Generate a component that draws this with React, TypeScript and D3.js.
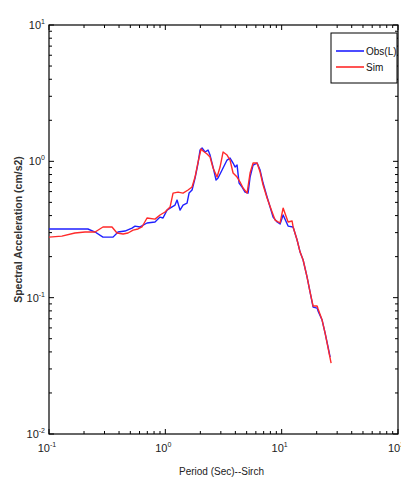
import React, { useRef, useEffect } from "react";
import * as d3 from "d3";

// Observed (blue) spectral acceleration, period in seconds
const obsPeriod = [
  0.1, 0.216, 0.249, 0.291, 0.355, 0.392, 0.45, 0.517, 0.549, 0.606,
  0.696, 0.815, 0.9, 0.955, 1.034, 1.098, 1.212, 1.261, 1.338, 1.42,
  1.537, 1.599, 1.697, 1.801, 1.911, 1.988, 2.069, 2.195, 2.329, 2.423,
  2.572, 2.729, 2.84, 3.074, 3.393, 3.601, 3.822, 3.976, 4.137, 4.304,
  4.567, 4.847, 5.143, 5.351, 5.678, 6.147, 6.523, 6.922, 7.492, 7.951,
  8.437, 9.134, 9.692, 10.29, 11.36, 12.54, 13.57, 14.4, 15.29, 16.54,
  17.55, 18.63, 20.17, 20.57, 22.26, 23.63, 25.07, 26.09,
];
const obsSA = [
  0.319, 0.319, 0.303, 0.278, 0.278, 0.303, 0.308, 0.324, 0.335, 0.33,
  0.353, 0.359, 0.39, 0.384, 0.439, 0.454, 0.478, 0.52, 0.439, 0.478,
  0.494, 0.585, 0.616, 0.754, 0.972, 1.21, 1.252, 1.17, 1.21, 1.112,
  0.908, 0.729, 0.754, 0.863, 1.022, 1.057, 0.972, 0.908, 0.939, 0.693,
  0.648, 0.595, 0.585, 0.767, 0.939, 0.972, 0.863, 0.693, 0.547, 0.462,
  0.39, 0.359, 0.347, 0.404, 0.335, 0.33, 0.265, 0.216, 0.189, 0.1416,
  0.11, 0.0853, 0.0839, 0.0797, 0.0685, 0.055, 0.0434, 0.0367,
];

// Simulated (red)
const simPeriod = [
  0.1, 0.129, 0.167, 0.204, 0.249, 0.291, 0.348, 0.384, 0.433, 0.478,
  0.528, 0.582, 0.63, 0.696, 0.815, 0.9, 0.994, 1.098, 1.165, 1.286,
  1.42, 1.568, 1.697, 1.801, 1.911, 2.028, 2.11, 2.284, 2.423, 2.572,
  2.784, 2.954, 3.135, 3.393, 3.601, 3.822, 4.137, 4.39, 4.659, 5.043,
  5.351, 5.678, 6.147, 6.523, 6.922, 7.492, 8.272, 8.777, 9.692, 10.29,
  11.36, 12.29, 12.54, 13.57, 14.4, 15.29, 16.54, 17.55, 18.63, 20.17,
  20.57, 22.26, 23.63, 25.07, 26.61,
];
const simSA = [
  0.278, 0.283, 0.298, 0.303, 0.303, 0.33, 0.33, 0.298, 0.293, 0.298,
  0.313, 0.319, 0.33, 0.384, 0.377, 0.404, 0.425, 0.462, 0.585, 0.595,
  0.585, 0.616, 0.648, 0.767, 0.988, 1.231, 1.19, 1.131, 1.075, 0.893,
  0.767, 0.908, 1.17, 1.112, 1.022, 0.821, 0.767, 0.705, 0.637, 0.585,
  0.821, 0.972, 0.972, 0.835, 0.67, 0.538, 0.425, 0.371, 0.353, 0.454,
  0.359, 0.365, 0.33, 0.265, 0.216, 0.189, 0.1416, 0.11, 0.0868, 0.0868,
  0.0825, 0.0685, 0.055, 0.0427, 0.0331,
];

const xDecades = [-1, 0, 1, 2];
const yDecades = [-2, -1, 0, 1];
const legendItems = [
  { label: "Obs(L)", color: "#1f1fff" },
  { label: "Sim", color: "#ff2a2a" },
];

const W = 401;
const H = 484;
const FONT = "'Liberation Sans', Arial, sans-serif";

const App = () => {
  const svgRef = useRef(null);

  useEffect(() => {
    const svg = d3.select(svgRef.current);
    svg.selectAll("*").remove();

    const margin = { top: 25, right: 3, bottom: 50, left: 49 };
    const x = d3.scaleLog().domain([0.1, 100]).range([margin.left, W - margin.right]);
    const y = d3.scaleLog().domain([0.01, 10]).range([H - margin.bottom, margin.top]);
    const [x0, x1] = x.range();
    const [y0, y1] = y.range();

    const g = svg.append("g");

    // minor + major ticks on all four sides, pointing inward
    const xTicks = [];
    const yTicks = [];
    for (let d = -1; d < 2; d++) for (let k = 1; k < 10; k++) xTicks.push({ v: k * 10 ** d, major: k === 1 });
    xTicks.push({ v: 100, major: true });
    for (let d = -2; d < 1; d++) for (let k = 1; k < 10; k++) yTicks.push({ v: k * 10 ** d, major: k === 1 });
    yTicks.push({ v: 10, major: true });

    xTicks.forEach((t) => {
      const len = t.major ? 5 : 3;
      const px = x(t.v);
      g.append("line").attr("x1", px).attr("x2", px).attr("y1", y0).attr("y2", y0 - len).attr("stroke", "#000");
      g.append("line").attr("x1", px).attr("x2", px).attr("y1", y1).attr("y2", y1 + len).attr("stroke", "#000");
    });
    yTicks.forEach((t) => {
      const len = t.major ? 5 : 3;
      const py = y(t.v);
      g.append("line").attr("x1", x0).attr("x2", x0 + len).attr("y1", py).attr("y2", py).attr("stroke", "#000");
      g.append("line").attr("x1", x1).attr("x2", x1 - len).attr("y1", py).attr("y2", py).attr("stroke", "#000");
    });

    g.append("rect")
      .attr("x", x0).attr("y", y1)
      .attr("width", x1 - x0).attr("height", y0 - y1)
      .attr("fill", "none").attr("stroke", "#000").attr("stroke-width", 1.2);

    // tick labels
    xDecades.forEach((e) => {
      const t = g.append("text")
        .attr("x", x(10 ** e) - 2).attr("y", y0 + 18)
        .attr("text-anchor", "middle")
        .attr("font-family", FONT).attr("font-size", 11).attr("fill", "#222");
      t.append("tspan").text("10");
      t.append("tspan").attr("dy", -5).attr("font-size", 7).text(String(e));
    });
    yDecades.forEach((e) => {
      const t = g.append("text")
        .attr("x", x0 - 4).attr("y", y(10 ** e) + 4)
        .attr("text-anchor", "end")
        .attr("font-family", FONT).attr("font-size", 11).attr("fill", "#222");
      t.append("tspan").text("10");
      t.append("tspan").attr("dy", -5).attr("font-size", 7).text(String(e));
    });

    // axis titles
    g.append("text")
      .attr("x", (x0 + x1) / 2 - 2).attr("y", H - 9)
      .attr("text-anchor", "middle")
      .attr("font-family", FONT).attr("font-size", 10).attr("fill", "#222")
      .text("Period (Sec)--Sirch");
    g.append("text")
      .attr("transform", `translate(22,${(y0 + y1) / 2}) rotate(-90)`)
      .attr("text-anchor", "middle")
      .attr("font-family", FONT).attr("font-size", 10.5).attr("font-weight", "bold").attr("fill", "#333")
      .text("Spectral Acceleration (cm/s2)");

    const line = d3.line().x((d) => x(d[0])).y((d) => y(d[1]));
    const series = [
      { p: obsPeriod, v: obsSA, color: legendItems[0].color },
      { p: simPeriod, v: simSA, color: legendItems[1].color },
    ];
    series.forEach((s) => {
      g.append("path")
        .datum(s.p.map((p, i) => [p, s.v[i]]))
        .attr("fill", "none")
        .attr("stroke", s.color)
        .attr("stroke-width", 1.4)
        .attr("stroke-linejoin", "round")
        .attr("d", line);
    });

    // legend
    const lg = g.append("g").attr("transform", `translate(331,33)`);
    lg.append("rect").attr("width", 66).attr("height", 50).attr("fill", "#fff").attr("stroke", "#000");
    legendItems.forEach((d, i) => {
      const ly = 18 + i * 16;
      lg.append("line").attr("x1", 5).attr("x2", 33).attr("y1", ly).attr("y2", ly)
        .attr("stroke", d.color).attr("stroke-width", 1.6);
      lg.append("text").attr("x", 35).attr("y", ly + 4)
        .attr("font-family", FONT).attr("font-size", 10).attr("fill", "#111")
        .text(d.label);
    });
  }, []);

  return (
    <div style={{ position: "absolute", left: 0, top: 0, width: W, height: H, background: "#fff" }}>
      <svg ref={svgRef} width={W} height={H}></svg>
    </div>
  );
};

export default App;
